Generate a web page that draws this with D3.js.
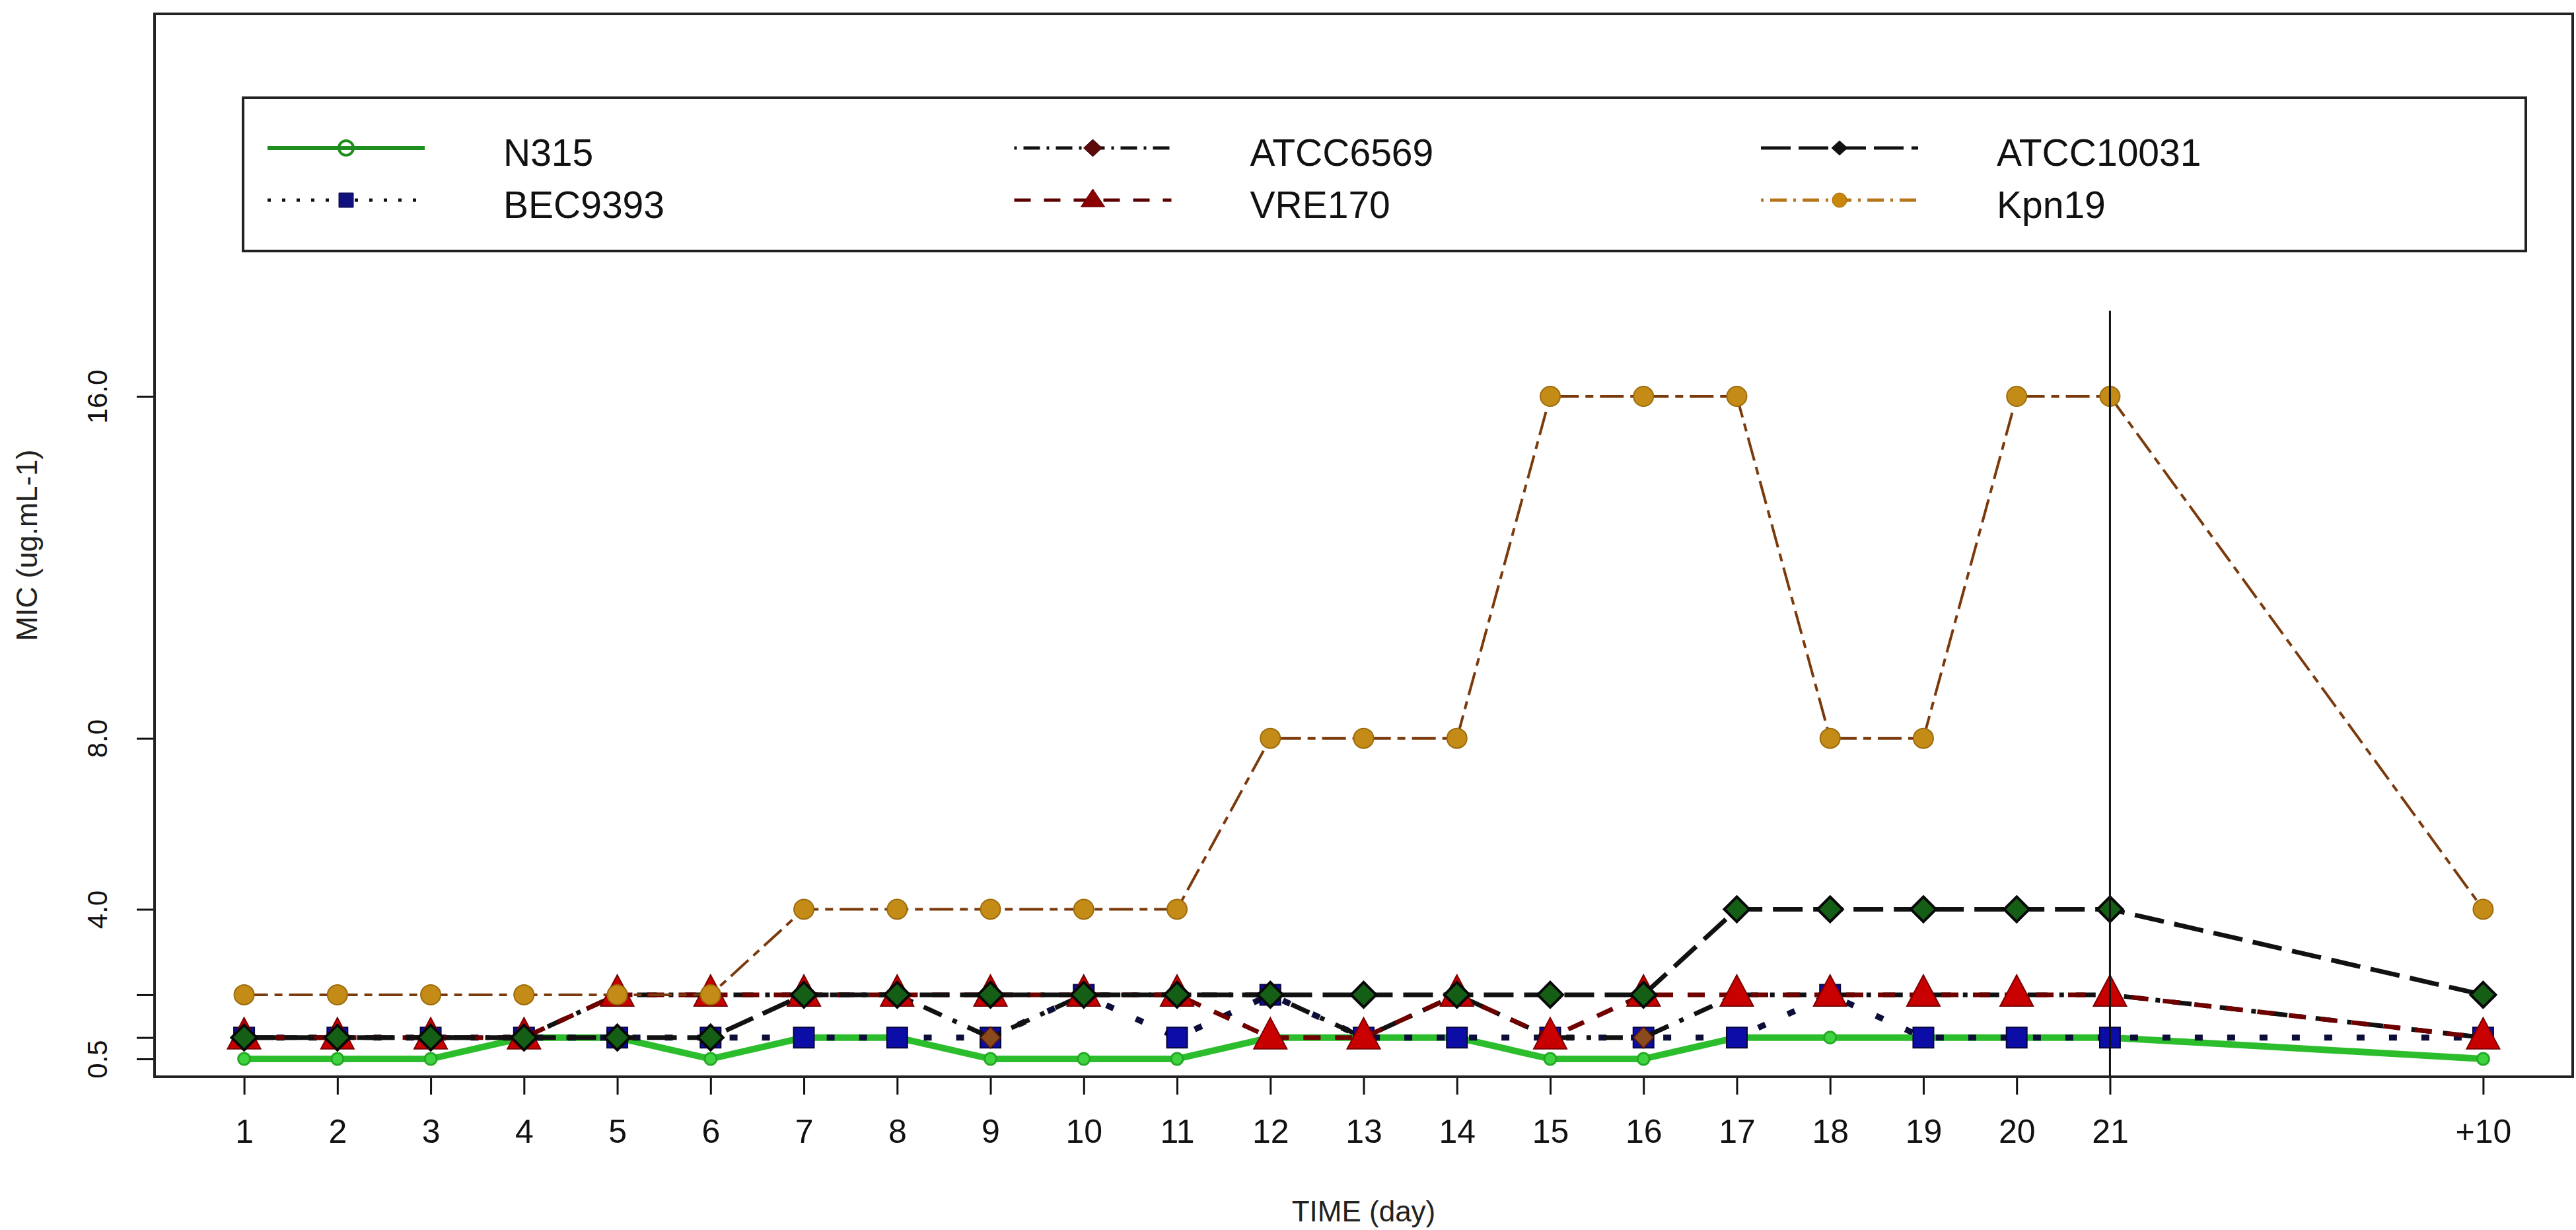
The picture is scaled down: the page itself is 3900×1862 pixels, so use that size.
<!DOCTYPE html>
<html>
<head>
<meta charset="utf-8">
<script src="https://cdn.jsdelivr.net/npm/d3@7"></script>
<style>
  html, body { margin: 0; padding: 0; background: #fff; }
  svg { display: block; font-family: "Liberation Sans", Arial, sans-serif; }
</style>
</head>
<body>
<div id="chart"></div>
<script>
// ---- data (MIC in ug/mL per day) ---------------------------------------
const dayLabels = ["1","2","3","4","5","6","7","8","9","10","11","12","13","14","15","16","17","18","19","20","21","+10"];
const dayIndex  = [1,2,3,4,5,6,7,8,9,10,11,12,13,14,15,16,17,18,19,20,21,25];  // "+10" sits 4 steps after day 21

const n315      = [0.5,0.5,0.5,1,1,0.5,1,1,0.5,0.5,0.5,1,1,1,0.5,0.5,1,1,1,1,1,0.5];
const bec9393   = [1,1,1,1,1,1,1,1,1,2,1,2,1,1,1,1,1,2,1,1,1,1];
const atcc6569  = [1,1,1,1,2,2,2,2,1,2,2,2,1,2,1,1,2,2,2,2,2,1];
const vre170    = [1,1,1,1,2,2,2,2,2,2,2,1,1,2,1,2,2,2,2,2,2,1];
const atcc10031 = [1,1,1,1,1,1,2,2,2,2,2,2,2,2,2,2,4,4,4,4,4,2];
const kpn19     = [2,2,2,2,2,2,4,4,4,4,4,8,8,8,16,16,16,8,8,16,16,4];

const seriesNames  = ["N315","BEC9393","ATCC6569","VRE170","ATCC10031","Kpn19"];
const seriesValues = [n315, bec9393, atcc6569, vre170, atcc10031, kpn19];

const yTickValues = [0.5, 1, 2, 4, 8, 16];
const yTickLabels = ["0.5", "", "", "4.0", "8.0", "16.0"];

const cutoffDay = 21;     // vertical line: end of exposure
const cutoffTop = 18;

// ---- marker shapes (relative to the point) -----------------------------
const shape = {
    circle:   (r) => `M${-r},0a${r},${r} 0 1,0 ${2*r},0a${r},${r} 0 1,0 ${-2*r},0Z`,
    square:   (s) => `M${-s},${-s}h${2*s}v${2*s}h${-2*s}Z`,
    diamond:  (w, h) => `M0,${-h}L${w},0L0,${h}L${-w},0Z`,
    triangle: (w, up, down) => `M0,${-up}L${w},${down}L${-w},${down}Z`
};

// styles per series: plot line + marker, legend line + marker
const styles = {
    "N315":      { stroke: "#2cbd2c", width: 10, dash: null,
                   mark: shape.circle(9), fill: "#3fd43f", mstroke: "#25a825", mwidth: 3,
                   lstroke: "#1e8e1e", lwidth: 6, ldash: null,
                   lmark: shape.circle(11), lfill: "none", lmstroke: "#1e8e1e", lmwidth: 4 },
    "BEC9393":   { stroke: "#0d0d3a", width: 9, dash: "12,37",
                   mark: shape.square(15.5), fill: "#0c0ca6", mstroke: "#05053a", mwidth: 2,
                   lstroke: "#111", lwidth: 5, ldash: "5,17",
                   lmark: shape.square(11), lfill: "#10107e", lmstroke: "#0a0a40", lmwidth: 1 },
    "ATCC6569":  { stroke: "#111", width: 7, dash: "7,18,30,18",
                   mark: shape.diamond(15, 16), fill: "#8b4a1e", mstroke: "#5a1a0a", mwidth: 2,
                   lstroke: "#111", lwidth: 5, ldash: "4,10,25,10",
                   lmark: shape.diamond(14, 13), lfill: "#5c0a0a", lmstroke: "#3a0505", lmwidth: 1 },
    "VRE170":    { stroke: "#6e0000", width: 7, dash: "26,22",
                   mark: shape.triangle(25, 30, 17), fill: "#c80000", mstroke: "#7a0000", mwidth: 2,
                   lstroke: "#5a0000", lwidth: 5, ldash: "25,20",
                   lmark: shape.triangle(18, 17, 10), lfill: "#8b0000", lmstroke: "#6a0000", lmwidth: 1 },
    "ATCC10031": { stroke: "#111", width: 7, dash: "45,16",
                   mark: shape.diamond(19, 19), fill: "#155e15", mstroke: "#080808", mwidth: 4,
                   lstroke: "#111", lwidth: 5, ldash: "45,12",
                   lmark: shape.diamond(12, 11), lfill: "#111", lmstroke: "#111", lmwidth: 1 },
    "Kpn19":     { stroke: "#7a3a0c", width: 4, dash: "36,10,12,10",
                   mark: shape.circle(15), fill: "#c48c16", mstroke: "#9c6c0e", mwidth: 2,
                   lstroke: "#b87418", lwidth: 5, ldash: "4,10,25,10",
                   lmark: shape.circle(11), lfill: "#c8860a", lmstroke: "#a86e08", lmwidth: 1 }
};

// ---- layout -------------------------------------------------------------
const W = 3900, H = 1862;
const box = { left: 234, right: 3895, top: 21, bottom: 1630 };
const legendBox = { left: 368, right: 3824, top: 148, bottom: 380 };

const svg = d3.select("#chart")
    .append("svg")
    .attr("width", W)
    .attr("height", H);

svg.append("rect").attr("width", W).attr("height", H).attr("fill", "#fff");

// R pads the x range by 4% on each side
const xPad = (d3.max(dayIndex) - d3.min(dayIndex)) * 0.04;
const x = d3.scaleLinear()
    .domain([d3.min(dayIndex) - xPad, d3.max(dayIndex) + xPad])
    .range([box.left, box.right]);
const y = d3.scaleLinear()
    .domain([0.5, 16])
    .range([1603, 600]);

// x axis (ticks below the box)
const xAxis = svg.append("g")
    .attr("transform", "translate(0," + box.bottom + ")")
    .call(d3.axisBottom(x)
        .tickValues(dayIndex)
        .tickFormat((d, i) => dayLabels[i])
        .tickSize(27)
        .tickPadding(37)
        .tickSizeOuter(0));
xAxis.select(".domain").remove();
xAxis.selectAll(".tick line").attr("stroke", "#111").attr("stroke-width", 3);
xAxis.selectAll(".tick text")
    .attr("fill", "#111")
    .attr("font-size", 50)
    .attr("font-family", "Liberation Sans, Arial, sans-serif");

// y axis with rotated labels
const yAxis = svg.append("g")
    .attr("transform", "translate(" + box.left + ",0)")
    .call(d3.axisLeft(y)
        .tickValues(yTickValues)
        .tickFormat((d, i) => yTickLabels[i])
        .tickSize(27)
        .tickSizeOuter(0));
yAxis.select(".domain").remove();
yAxis.selectAll(".tick line").attr("stroke", "#111").attr("stroke-width", 3);
yAxis.selectAll(".tick text")
    .attr("x", 0)
    .attr("dy", null)
    .attr("text-anchor", "middle")
    .attr("transform", "translate(-72,0) rotate(-90)")
    .attr("fill", "#111")
    .attr("font-size", 42)
    .attr("font-family", "Liberation Sans, Arial, sans-serif");

// axis titles
svg.append("text")
    .attr("x", (box.left + box.right) / 2)
    .attr("y", 1849)
    .attr("text-anchor", "middle")
    .attr("font-size", 44)
    .attr("fill", "#222")
    .text("TIME (day)");
svg.append("text")
    .attr("transform", "translate(56," + (box.top + box.bottom) / 2 + ") rotate(-90)")
    .attr("text-anchor", "middle")
    .attr("font-size", 45)
    .attr("fill", "#222")
    .text("MIC (ug.mL-1)");

// ---- series: line then points, in legend order --------------------------
const line = d3.line()
    .x((d) => x(d.day))
    .y((d) => y(d.value));

seriesNames.forEach((name, s) => {
    const st = styles[name];
    const pts = seriesValues[s].map((v, i) => ({ day: dayIndex[i], value: v }));
    const g = svg.append("g").attr("class", "series");
    g.append("path")
        .datum(pts)
        .attr("d", line)
        .attr("fill", "none")
        .attr("stroke", st.stroke)
        .attr("stroke-width", st.width)
        .attr("stroke-dasharray", st.dash)
        .attr("stroke-linejoin", "round");
    g.selectAll("path.pt")
        .data(pts)
        .enter()
        .append("path")
        .attr("class", "pt")
        .attr("transform", (d) => "translate(" + x(d.day) + "," + y(d.value) + ")")
        .attr("d", st.mark)
        .attr("fill", st.fill)
        .attr("stroke", st.mstroke)
        .attr("stroke-width", st.mwidth);
});

// vertical line at the end of day 21
svg.append("line")
    .attr("x1", x(cutoffDay)).attr("x2", x(cutoffDay))
    .attr("y1", y(cutoffTop)).attr("y2", box.bottom)
    .attr("stroke", "#111")
    .attr("stroke-width", 3);

// plot frame
svg.append("rect")
    .attr("x", box.left).attr("y", box.top)
    .attr("width", box.right - box.left)
    .attr("height", box.bottom - box.top)
    .attr("fill", "none")
    .attr("stroke", "#222")
    .attr("stroke-width", 4);

// ---- legend: 3 columns, filled column by column --------------------------
svg.append("rect")
    .attr("x", legendBox.left).attr("y", legendBox.top)
    .attr("width", legendBox.right - legendBox.left)
    .attr("height", legendBox.bottom - legendBox.top)
    .attr("fill", "#fff")
    .attr("stroke", "#222")
    .attr("stroke-width", 4);

const legendCol = d3.scaleLinear().domain([0, 1]).range([405, 1535.5]);
const legendRow = d3.scaleLinear().domain([0, 1]).range([224, 303]);
const legendLineLen = 238;

seriesNames.forEach((name, s) => {
    const st = styles[name];
    const lx = legendCol(Math.floor(s / 2));
    const ly = legendRow(s % 2);
    const g = svg.append("g").attr("class", "legend-item");
    g.append("line")
        .attr("x1", lx).attr("x2", lx + legendLineLen)
        .attr("y1", ly).attr("y2", ly)
        .attr("stroke", st.lstroke)
        .attr("stroke-width", st.lwidth)
        .attr("stroke-dasharray", st.ldash);
    g.append("path")
        .attr("transform", "translate(" + (lx + legendLineLen / 2) + "," + ly + ")")
        .attr("d", st.lmark)
        .attr("fill", st.lfill)
        .attr("stroke", st.lmstroke)
        .attr("stroke-width", st.lmwidth);
    g.append("text")
        .attr("x", lx + 357)
        .attr("y", ly + 27)
        .attr("font-size", 57)
        .attr("fill", "#111")
        .text(name);
});
</script>
</body>
</html>
